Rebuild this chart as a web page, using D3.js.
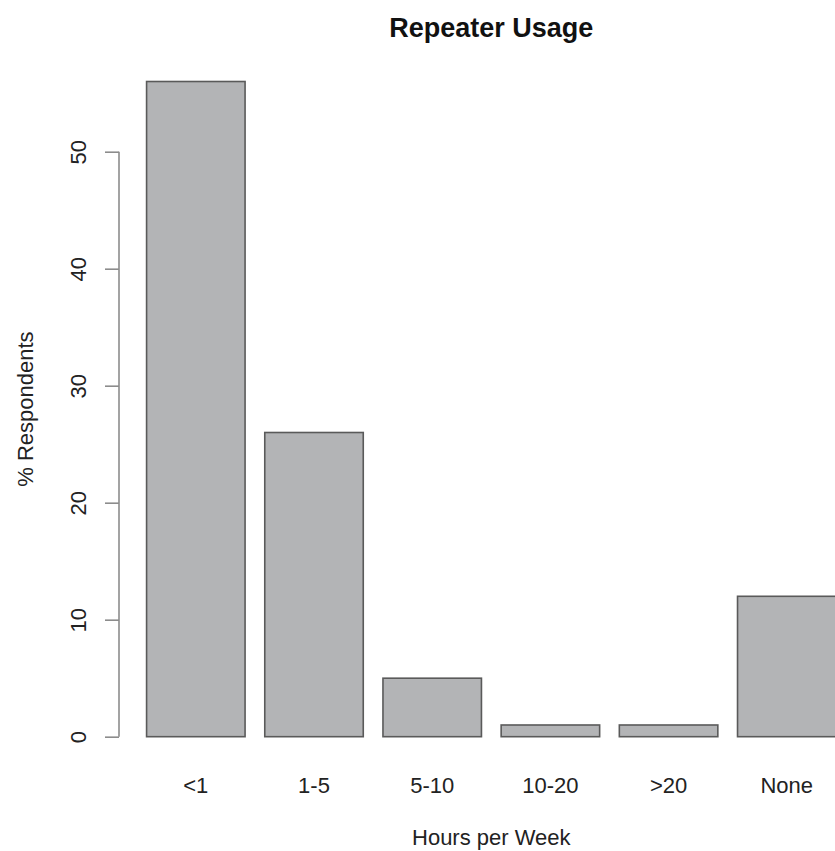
<!DOCTYPE html>
<html>
<head>
<meta charset="utf-8">
<script src="https://cdn.jsdelivr.net/npm/d3@7"></script>
<style>
  html, body { margin: 0; padding: 0; background: #fff; }
  svg { display: block; font-family: "Liberation Sans", Arial, sans-serif; }
</style>
</head>
<body>
<div id="chart"></div>
<script>
// 数据
const categories = ['<1', '1-5', '5-10', '10-20', '>20', 'None'];
const percents = [56, 26, 5, 1, 1, 12];
const yTicks = [0, 10, 20, 30, 40, 50];

const width = 835, height = 851;

const svg = d3.select('#chart')
  .append('svg')
  .attr('width', width)
  .attr('height', height);

// 绘图区域（仿 R barplot：宽 1，间隔 0.2，两端各扩 4%）
const plot = { left: 119, right: 863.6, top: 55.3, bottom: 762.9 };
const xMax = categories.length * 1.2;
const xPad = (xMax - 0.2) * 0.04;
const yPad = d3.max(percents) * 0.04;

const x = d3.scaleLinear()
  .domain([0.2 - xPad, xMax + xPad])
  .range([plot.left, plot.right]);
const y = d3.scaleLinear()
  .domain([-yPad, d3.max(percents) + yPad])
  .range([plot.bottom, plot.top]);

const barW = x(1) - x(0);

// 柱子
svg.append('g').selectAll('rect')
  .data(percents)
  .join('rect')
  .attr('x', (d, i) => x(0.2 + i * 1.2))
  .attr('y', d => y(d))
  .attr('width', barW)
  .attr('height', d => y(0) - y(d))
  .attr('fill', '#b3b4b6')
  .attr('stroke', '#5a5a5a')
  .attr('stroke-width', 1.6);

// y 轴
const yAxis = svg.append('g')
  .attr('transform', `translate(${plot.left}, 0)`)
  .call(d3.axisLeft(y).tickValues(yTicks).tickSize(14).tickPadding(0));
yAxis.select('.domain').remove();
yAxis.append('line')
  .attr('y1', y(0))
  .attr('y2', y(d3.max(yTicks)))
  .attr('stroke', '#8c8c8c')
  .attr('stroke-width', 1.6);
yAxis.selectAll('.tick line')
  .attr('stroke', '#8c8c8c')
  .attr('stroke-width', 1.6);
yAxis.selectAll('.tick text')
  .attr('x', null)
  .attr('dy', null)
  .attr('transform', 'translate(-33, 0) rotate(-90)')
  .attr('text-anchor', 'middle')
  .attr('font-size', 22)
  .attr('font-family', '"Liberation Sans", Arial, sans-serif')
  .attr('fill', '#222');

// x 类别标签
svg.append('g').selectAll('text')
  .data(categories)
  .join('text')
  .attr('x', (d, i) => x(0.2 + i * 1.2) + barW / 2)
  .attr('y', plot.bottom + 30)
  .attr('text-anchor', 'middle')
  .attr('font-size', 22)
  .attr('fill', '#222')
  .text(d => d);

// 标题
svg.append('text')
  .attr('x', (plot.left + plot.right) / 2)
  .attr('y', 37)
  .attr('text-anchor', 'middle')
  .attr('font-size', 27)
  .attr('font-weight', 'bold')
  .attr('fill', '#111')
  .text('Repeater Usage');

// 轴标题
svg.append('text')
  .attr('x', (plot.left + plot.right) / 2)
  .attr('y', 845)
  .attr('text-anchor', 'middle')
  .attr('font-size', 22)
  .attr('fill', '#222')
  .text('Hours per Week');

svg.append('text')
  .attr('transform', `translate(33, ${(plot.top + plot.bottom) / 2}) rotate(-90)`)
  .attr('text-anchor', 'middle')
  .attr('font-size', 22)
  .attr('fill', '#222')
  .text('% Respondents');
</script>
</body>
</html>
